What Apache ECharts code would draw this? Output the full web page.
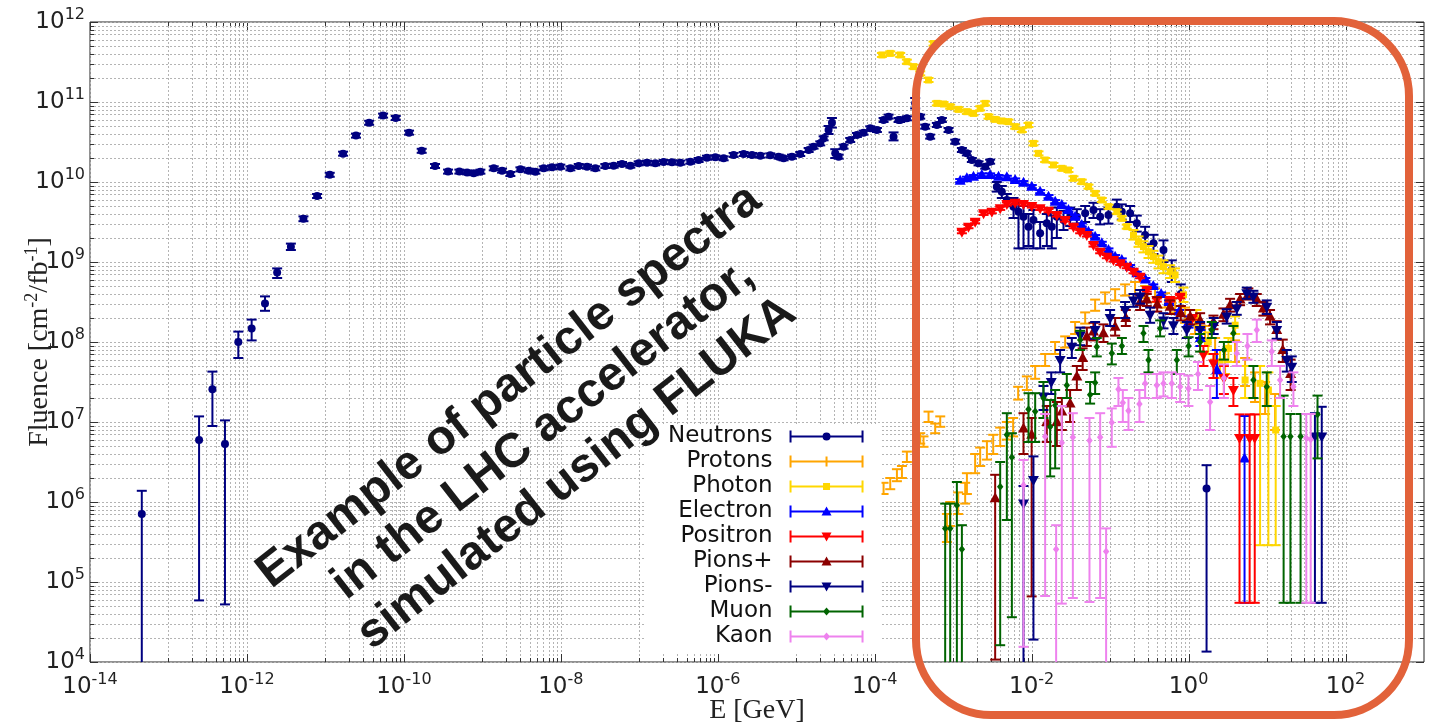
<!DOCTYPE html>
<html>
<head>
<meta charset="utf-8">
<title>Particle spectra (FLUKA)</title>
<script src="https://cdn.jsdelivr.net/npm/echarts@6/dist/echarts.min.js"></script>
<style>html,body{margin:0;padding:0;background:#fff;}</style>
</head>
<body>
<div id="main" style="width:1432px;height:723px"></div>
<script type="text/javascript">
// values, stored as log10:
// [log10 E (GeV), log10 fluence, log10 lower end of error bar, log10 upper end]
// rows with only two numbers have a small error bar (see errSmall below)
var neutrons = [
  [-13.34,5.85,3.0,6.14],[-12.61,6.775,4.77,7.07],[-12.44,7.41,6.95,7.63],[-12.28,6.725,4.72,7.02],
  [-12.11,8.0,7.8,8.13],[-11.94,8.17,8.02,8.28],[-11.77,8.48,8.39,8.57],[-11.615,8.87,8.8,8.92],
  [-11.44,9.19,9.15,9.23],[-11.28,9.54,9.51,9.57],[-11.106,9.825],[-10.945,10.09],[-10.775,10.354],
  [-10.61,10.58],[-10.443,10.74],[-10.265,10.83],[-10.104,10.8],[-9.934,10.617],[-9.773,10.39],
  [-9.603,10.2],[-9.437,10.13],[-9.293,10.13],[-9.195,10.12],[-9.11,10.11],
  [-9.025,10.129],[-8.855,10.171],[-8.749,10.142],[-8.643,10.10],[-8.515,10.158],[-8.409,10.142],
  [-8.324,10.129],[-8.218,10.171],[-8.112,10.183],[-8.006,10.192],[-7.878,10.171],[-7.772,10.2],
  [-7.666,10.192],[-7.56,10.171],[-7.433,10.2],[-7.326,10.204],[-7.22,10.225],[-7.114,10.204],
  [-7.008,10.233],[-6.902,10.242],[-6.796,10.233],[-6.69,10.25],[-6.583,10.246],[-6.477,10.242],
  [-6.35,10.254],[-6.244,10.275],[-6.138,10.304],[-6.031,10.308],[-5.925,10.296],[-5.798,10.338],
  [-5.67,10.35],[-5.564,10.338],[-5.458,10.329],[-5.331,10.333],[-5.225,10.317],[-5.161,10.296],
  [-5.055,10.317],[-4.949,10.35],[-4.842,10.4],[-4.779,10.442],[-4.694,10.483],[-4.651,10.546],
  [-4.588,10.65,10.6,10.7],[-4.545,10.742,10.68,10.8],[-4.503,10.358,10.3,10.41],[-4.46,10.317],
  [-4.397,10.442],[-4.312,10.525],[-4.227,10.588],[-4.142,10.617],[-4.057,10.671],[-3.972,10.65],
  [-3.887,10.775],[-3.823,10.817],[-3.76,10.567,10.52,10.62],[-3.696,10.775],
  [-3.675,10.775],[-3.59,10.796],[-3.484,10.983,10.92,11.05],[-3.42,10.817],[-3.357,10.692],
  [-3.293,10.567],[-3.208,10.713],[-3.144,10.775],[-3.059,10.65],[-2.974,10.504],[-2.889,10.4],
  [-2.826,10.358],[-2.762,10.275],[-2.677,10.233],[-2.592,10.192],[-2.529,10.254],
  [-2.444,9.942,9.88,10.0],[-2.38,9.879,9.8,9.95],[-2.316,9.775,9.7,9.85],[-2.231,9.692,9.55,9.8],
  [-2.168,9.629,9.17,9.75],[-2.104,9.567,9.17,9.7],[-2.04,9.442,9.2,9.6],[-1.977,9.525,9.17,9.65],
  [-1.892,9.358,9.17,9.5],[-1.807,9.483,9.2,9.6],[-1.743,9.442,9.17,9.58],[-1.679,9.567,9.3,9.68],
  [-1.594,9.525,9.4,9.64],[-1.509,9.567,9.45,9.68],[-1.424,9.567,9.48,9.66],[-1.318,9.608,9.5,9.7],
  [-1.212,9.65,9.55,9.74],[-1.127,9.567,9.47,9.66],[-1.021,9.588,9.48,9.68],[-0.915,9.692,9.6,9.78],
  [-0.851,9.629,9.53,9.72],[-0.745,9.608,9.5,9.7],[-0.66,9.483,9.38,9.58],[-0.554,9.338,9.22,9.44],
  [-0.447,9.233,9.1,9.34],[-0.32,9.15,9.0,9.27],[-0.214,8.9,8.75,9.02],[-0.1,8.6,8.45,8.72],
  [0.229,6.17,4.13,6.46]
];
var protons = [
  [-3.887,6.171,6.1,6.24],[-3.802,6.233,6.16,6.3],[-3.717,6.338,6.26,6.41],[-3.653,6.379,6.3,6.45],
  [-3.59,6.567,6.5,6.63],[-3.42,6.796,6.73,6.86],[-3.378,6.754,6.69,6.82],[-3.314,7.067,7.0,7.13],
  [-3.229,6.921,6.86,6.98],[-3.165,7.004,6.94,7.07],
  [-3.08,5.675,5.5,5.85],[-3.038,5.86,5.7,6.0],[-2.936,5.99,5.85,6.12],[-2.847,6.11,5.98,6.24],
  [-2.825,6.24,6.1,6.36],[-2.72,6.49,6.36,6.6],[-2.656,6.57,6.45,6.68],[-2.57,6.65,6.53,6.76],
  [-2.49,6.73,6.6,6.84],[-2.401,6.82,6.7,6.93],[-2.316,6.9,6.78,7.0],[-2.236,6.94,6.82,7.05],
  [-2.172,7.36,7.28,7.44],[-2.061,7.49,7.4,7.57],[-1.955,7.62,7.54,7.7],[-1.828,7.775,7.7,7.85],
  [-1.701,7.925,7.85,8.0],[-1.573,8.0,7.93,8.07],[-1.446,8.175,8.1,8.25],[-1.318,8.3,8.23,8.37],
  [-1.191,8.463,8.39,8.53],[-1.064,8.55,8.48,8.62],[-0.936,8.588,8.52,8.66],[-0.809,8.65,8.58,8.72],
  [-0.682,8.675,8.6,8.75],[-0.554,8.625,8.55,8.7],[-0.427,8.588,8.5,8.67],[-0.299,8.525,8.43,8.61],
  [-0.172,8.463,8.37,8.55],[-0.045,8.338,8.24,8.43],[0.083,8.213,8.1,8.32],[0.21,8.088,7.95,8.2],
  [0.338,7.925,7.78,8.05],[0.465,7.775,7.6,7.9],[0.592,7.9,7.75,8.02],[0.72,7.65,7.45,7.8],
  [0.847,7.463,7.25,7.62],[0.975,7.338,7.1,7.5],[1.102,7.15,6.9,7.35]
];
var photons = [
  [-3.908,11.588],[-3.802,11.608],[-3.675,11.588],[-3.59,11.504],[-3.505,11.442],[-3.42,11.358],
  [-3.314,11.275],[-3.25,11.73],[-3.208,10.983],[-3.123,10.975],[-3.038,10.942],[-2.932,10.908],
  [-2.826,10.879],[-2.741,10.858],[-2.656,10.921],[-2.592,10.983],[-2.55,10.817],[-2.465,10.783],
  [-2.38,10.763],[-2.295,10.754],[-2.21,10.692],[-2.125,10.65],[-2.04,10.713],[-1.977,10.483],
  [-1.913,10.358],[-1.828,10.275],[-1.722,10.213],[-1.616,10.171],[-1.531,10.15],[-1.467,10.046],
  [-1.361,10.004],[-1.276,9.942],[-1.191,9.858],[-1.106,9.775],[-1.021,9.692],[-0.915,9.629],
  [-0.851,9.546],[-0.788,9.442],[-0.702,9.338,9.28,9.4],[-0.638,9.254,9.19,9.32],
  [-0.575,9.192,9.12,9.26],[-0.511,9.129,9.05,9.2],[-0.448,9.067,8.99,9.14],[-0.384,9.004,8.92,9.08],
  [-0.32,8.942,8.86,9.02],[-0.235,8.879,8.8,8.96],[-0.172,8.838,8.75,8.92],[-0.065,8.59,8.5,8.68],
  [0.1,8.3,8.2,8.4],[0.25,8.0,7.85,8.12],[0.4,7.75,7.55,7.9],[0.508,7.92,7.75,8.05],
  [0.593,8.21,8.1,8.32],[0.72,7.525,7.3,7.7],[0.911,7.483,5.46,7.7],[1.017,7.4,5.46,7.62],
  [1.11,6.9,5.46,7.2]
];
var electrons = [
  [-2.911,10.017],[-2.826,10.046],[-2.741,10.067],[-2.635,10.088],[-2.529,10.088],[-2.422,10.067],
  [-2.316,10.058],[-2.21,10.025],[-2.104,9.992],[-1.998,9.942],[-1.892,9.879],[-1.785,9.817],
  [-1.7,9.754],[-1.616,9.713],[-1.531,9.65],[-1.446,9.567],[-1.361,9.463],[-1.276,9.379],
  [-1.191,9.317],[-1.106,9.233],[-1.021,9.15],[-0.936,9.067],[-0.851,9.025],[-0.745,8.942],
  [-0.66,8.858],[-0.55,8.78],[-0.45,8.7],[-0.35,8.6],[-0.25,8.5],[-0.12,8.38],
  [0.0,8.25,8.18,8.32],[0.15,8.05,7.95,8.15],[0.36,7.65,7.3,7.9],[0.713,6.545,4.74,7.075]
];
var positrons = [
  [-2.889,9.379],[-2.805,9.442],[-2.72,9.504],[-2.613,9.608],[-2.507,9.629],[-2.401,9.671],
  [-2.316,9.725],[-2.21,9.742],[-2.104,9.725],[-1.998,9.7],[-1.892,9.671],[-1.785,9.642],
  [-1.679,9.588],[-1.573,9.525],[-1.467,9.442],[-1.382,9.379],[-1.297,9.338],[-1.212,9.213],
  [-1.127,9.129],[-1.042,9.067],[-0.957,9.025],[-0.872,8.983],[-0.788,8.942],[-0.702,8.879],
  [-0.618,8.817],[-0.533,8.65],[-0.405,8.525],[-0.235,8.525],[-0.108,8.567],[0.05,8.3],
  [0.189,7.84,7.7,7.95],[0.317,7.73,7.55,7.85],[0.45,7.55,7.35,7.7],[0.571,7.4,7.2,7.55],
  [0.649,6.8,4.74,7.095],[0.778,6.8,4.74,7.095],[0.843,6.8,4.74,7.095]
];
var pionsPlus = [
  [-2.465,6.046,4.03,6.34],[-2.104,6.92,6.6,7.11],[-2.0,6.84,4.82,7.05],[-1.807,7.0,6.75,7.2],
  [-1.679,7.0,6.7,7.25],[-1.615,7.13,6.9,7.3],[-1.51,7.23,7.0,7.4],[-1.424,7.57,7.4,7.7],
  [-1.35,7.8,7.65,7.92],[-1.297,8.07,7.95,8.18],[-1.212,8.13,8.02,8.24],[-1.085,8.11,8.0,8.22],
  [-0.936,8.19,8.08,8.3],[-0.8,8.3,8.2,8.4],[-0.618,8.5,8.4,8.58],[-0.533,8.53,8.45,8.6],
  [-0.4,8.47,8.38,8.56],[-0.235,8.44,8.35,8.52],[-0.1,8.36,8.27,8.45],[0.02,8.32,8.22,8.4],
  [0.147,8.27,8.18,8.36],[0.317,8.25,8.16,8.33],[0.444,8.34,8.26,8.42],[0.529,8.46,8.38,8.54],
  [0.656,8.53,8.46,8.6],[0.762,8.6,8.53,8.67],[0.869,8.53,8.45,8.6],[0.953,8.42,8.33,8.5],
  [1.038,8.32,8.22,8.4],[1.123,8.15,8.03,8.26],[1.2,7.9,7.75,8.03],[1.3,7.6,7.4,7.78]
];
var pionsMinus = [
  [-2.104,5.98,3.5,6.2],[-1.977,6.275,4.28,6.57],[-1.849,7.32,7.15,7.45],[-1.75,7.5,7.35,7.62],
  [-1.637,7.775,7.62,7.9],[-1.488,7.94,7.8,8.05],[-1.38,8.08,7.96,8.18],[-1.191,8.15,8.04,8.25],
  [-1.0,8.3,8.2,8.4],[-0.809,8.4,8.3,8.5],[-0.702,8.52,8.44,8.6],[-0.618,8.57,8.48,8.65],
  [-0.49,8.34,8.24,8.43],[-0.32,8.27,8.17,8.36],[-0.193,8.21,8.1,8.3],[-0.023,8.15,8.05,8.25],
  [0.147,8.15,8.05,8.25],[0.32,8.2,8.1,8.3],[0.486,8.32,8.23,8.41],[0.614,8.42,8.34,8.5],
  [0.741,8.61,8.54,8.68],[0.826,8.57,8.49,8.64],[0.996,8.44,8.35,8.52],[1.123,8.15,8.04,8.25],
  [1.251,7.775,7.63,7.9],[1.315,7.69,7.5,7.82],[1.61,6.82,4.74,7.11],[1.697,6.82,4.74,7.19]
];
var muons = [
  [-3.102,5.67,3.5,5.98],[-3.038,5.67,3.5,5.98],[-2.953,5.96,3.5,6.25],[-2.889,5.41,3.5,5.71],
  [-2.401,6.19,4.21,6.5],[-2.316,6.84,5.775,7.11],[-2.252,6.56,4.56,6.86],[-2.04,7.16,6.75,7.36],
  [-1.955,7.13,6.75,7.36],[-1.85,7.3,7.05,7.5],[-1.764,6.94,6.32,7.275],[-1.7,7.21,6.42,7.4],
  [-1.552,7.46,7.3,7.6],[-1.382,8.025,7.9,8.14],[-1.255,7.34,7.23,7.5],[-1.191,7.49,7.35,7.62],
  [-1.17,7.94,7.82,8.05],[-0.978,7.86,7.72,7.98],[-0.85,7.95,7.85,8.05],[-0.575,8.11,8.0,8.2],
  [-0.511,7.775,7.62,7.9],[-0.363,8.17,8.07,8.27],[-0.15,7.775,7.6,7.9],[0.0,7.95,7.82,8.06],
  [0.147,8.0,7.88,8.1],[0.295,8.15,8.05,8.25],[0.45,7.9,7.78,8.0],[0.571,8.11,8.0,8.2],
  [0.826,7.525,7.3,7.7],[0.996,7.44,7.2,7.62],[1.211,6.82,4.74,7.33],[1.298,6.82,4.74,7.1],
  [1.427,6.82,4.74,7.1],[1.643,7.095,6.545,7.33]
];
var kaons = [
  [-2.104,6.21,4.19,6.525],[-1.828,6.82,4.825,7.1],[-1.688,5.41,3.5,5.71],[-1.616,6.74,4.73,7.2],
  [-1.475,6.81,4.8,7.11],[-1.263,6.77,4.75,7.05],[-1.127,6.81,4.8,7.11],[-1.051,5.38,3.5,5.67],
  [-0.979,6.995,6.69,7.17],[-0.894,7.41,7.2,7.55],[-0.838,7.24,7.0,7.4],[-0.766,7.14,6.9,7.3],
  [-0.626,7.225,7.0,7.4],[-0.554,7.48,7.3,7.6],[-0.405,7.46,7.3,7.6],[-0.32,7.48,7.32,7.62],
  [-0.214,7.48,7.3,7.62],[-0.108,7.44,7.25,7.6],[-0.002,7.42,7.2,7.58],[0.12,7.6,7.4,7.75],
  [0.274,7.25,6.9,7.45],[0.45,7.55,7.3,7.72],[0.614,7.86,7.7,8.0],[0.75,7.95,7.78,8.1],
  [0.869,8.15,8.0,8.28],[1.06,7.88,7.7,8.02],[1.166,7.525,7.3,7.7],[1.336,7.44,7.2,7.62],
  [1.5,6.8,4.74,7.1],[1.556,6.78,4.74,7.1]
];
var legendNames = ['Neutrons','Protons','Photon','Electron','Positron','Pions+','Pions-','Muon','Kaon'];
var seriesData = [neutrons, protons, photons, electrons, positrons, pionsPlus, pionsMinus, muons, kaons];
var errSmall = [0.025, 0.05, 0.025, 0.02, 0.02, 0.05, 0.05, 0.05, 0.05];

// look of each series
var colors = ['#000080','#FFA500','#FFD700','#0000FF','#FF0000','#8B0000','#000080','#006400','#EE82EE'];
var markers = ['circle','none','square','triUp','triDown','triUp','triDown','diamond','diamond'];
var markerSize = [8, 0, 7, 10, 10, 10, 10, 8, 8];

var myChart = echarts.init(document.getElementById('main'));

function markerShape(kind, cx, cy, s, color) {
  var h = s / 2;
  if (kind === 'circle') return {type: 'circle', shape: {cx: cx, cy: cy, r: h}, style: {fill: color}};
  if (kind === 'square') return {type: 'rect', shape: {x: cx - h, y: cy - h, width: s, height: s}, style: {fill: color}};
  var pts;
  if (kind === 'triUp') pts = [[cx, cy - s * 0.6], [cx + s * 0.55, cy + s * 0.4], [cx - s * 0.55, cy + s * 0.4]];
  else if (kind === 'triDown') pts = [[cx - s * 0.55, cy - s * 0.4], [cx + s * 0.55, cy - s * 0.4], [cx, cy + s * 0.6]];
  else if (kind === 'diamond') pts = [[cx, cy - h], [cx + h * 0.8, cy], [cx, cy + h], [cx - h * 0.8, cy]];
  else return null;
  return {type: 'polygon', shape: {points: pts}, style: {fill: color}};
}

function makeRender(i) {
  return function (params, api) {
    var p = api.coord([api.value(0), api.value(1)]);
    var lo = api.coord([api.value(0), api.value(2)])[1];
    var hi = api.coord([api.value(0), api.value(3)])[1];
    var st = {stroke: colors[i], lineWidth: 2};
    var cap = 5;
    var kids = [
      {type: 'line', shape: {x1: p[0], y1: lo, x2: p[0], y2: hi}, style: st},
      {type: 'line', shape: {x1: p[0] - cap, y1: lo, x2: p[0] + cap, y2: lo}, style: st},
      {type: 'line', shape: {x1: p[0] - cap, y1: hi, x2: p[0] + cap, y2: hi}, style: st}
    ];
    var m = markerShape(markers[i], p[0], p[1], markerSize[i], colors[i]);
    if (m) kids.push(m);
    return {type: 'group', children: kids};
  };
}

// dotted grid + inward ticks like the original plot
var xGrid = [], yGrid = [];
for (var n = -14; n <= 2; n++) {
  if (n % 2 === 0) xGrid.push({v: Math.pow(10, n), major: true});
  else for (var k = 1; k <= 9; k++) xGrid.push({v: k * Math.pow(10, n), major: false});
}
for (var n2 = 4; n2 <= 12; n2++) {
  yGrid.push({v: Math.pow(10, n2), major: true});
  if (n2 < 12) for (var k2 = 2; k2 <= 9; k2++) yGrid.push({v: k2 * Math.pow(10, n2), major: false});
}

function renderGrid(params, api) {
  var cs = params.coordSys;
  var x0 = cs.x, x1 = cs.x + cs.width, y0 = cs.y, y1 = cs.y + cs.height;
  var dash = {stroke: '#b4b4b4', lineWidth: 1, lineDash: [2, 2]};
  var tk = {stroke: '#333', lineWidth: 1};
  var kids = [];
  xGrid.forEach(function (g) {
    var x = Math.round(api.coord([g.v, 1e8])[0]) + 0.5;
    var len = g.major ? 8 : 4;
    kids.push({type: 'line', shape: {x1: x, y1: y0, x2: x, y2: y1}, style: dash});
    kids.push({type: 'line', shape: {x1: x, y1: y1, x2: x, y2: y1 - len}, style: tk});
    kids.push({type: 'line', shape: {x1: x, y1: y0, x2: x, y2: y0 + len}, style: tk});
  });
  yGrid.forEach(function (g) {
    var y = Math.round(api.coord([1e-5, g.v])[1]) + 0.5;
    var len = g.major ? 8 : 4;
    kids.push({type: 'line', shape: {x1: x0, y1: y, x2: x1, y2: y}, style: dash});
    kids.push({type: 'line', shape: {x1: x0, y1: y, x2: x0 + len, y2: y}, style: tk});
    kids.push({type: 'line', shape: {x1: x1, y1: y, x2: x1 - len, y2: y}, style: tk});
  });
  return {type: 'group', children: kids};
}

// legend icons: error bar with caps and the marker in the middle
var iconMarks = {
  circle: 'M33 7a4 4 0 1 1 8 0a4 4 0 1 1 -8 0Z',
  square: 'M33.5 3.5h7v7h-7Z',
  triUp: 'M32 11L37 2L42 11Z',
  triDown: 'M32 3L42 3L37 12Z',
  diamond: 'M37 3L40.5 7L37 11L33.5 7Z',
  none: 'M36 2h2v10h-2Z'
};
function legendIcon(i) {
  return 'path://M-12 7h0.05v0.05h-0.05Z M0 6h74v2H0Z M0 1h2v12H0Z M72 1h2v12h-2Z ' + iconMarks[markers[i]];
}

var supStyle = {fontFamily: 'DejaVu Sans', fontSize: 16, lineHeight: 19, verticalAlign: 'top', color: '#222'};
function powLabel(v) {
  return '10{sup|' + Math.round(Math.log10(v)) + '}';
}

var series = [{
  type: 'custom', name: 'grid', silent: true, z: 1,
  renderItem: renderGrid, data: [[1e-5, 1e8]], encode: {x: 0, y: 1}
}];
seriesData.forEach(function (rows, i) {
  series.push({
    type: 'custom', name: legendNames[i], clip: true, z: 2 + i,
    itemStyle: {color: colors[i]},
    encode: {x: 0, y: 1},
    data: rows.map(function (r) {
      var lo = r.length > 2 ? r[2] : r[1] - errSmall[i];
      var hi = r.length > 2 ? r[3] : r[1] + errSmall[i];
      return [Math.pow(10, r[0]), Math.pow(10, r[1]), Math.pow(10, lo), Math.pow(10, hi)];
    }),
    renderItem: makeRender(i)
  });
});

myChart.setOption({
  animation: false,
  grid: {
    left: 90, right: 8, top: 22, bottom: 61, outerBoundsMode: 'none', containLabel: false,
    show: true, borderColor: '#222', borderWidth: 1
  },
  xAxis: {
    type: 'log', logBase: 10, min: 1e-14, max: 1e3, interval: 2,
    name: 'E [GeV]', nameLocation: 'middle', nameGap: 35, nameMoveOverlap: false,
    nameTextStyle: {fontFamily: 'Liberation Serif', fontSize: 28, color: '#222'},
    axisLine: {show: false}, axisTick: {show: false}, splitLine: {show: false},
    axisLabel: {
      margin: 10, showMaxLabel: false, formatter: powLabel,
      fontFamily: 'DejaVu Sans', fontSize: 23, lineHeight: 30, color: '#222',
      rich: {sup: supStyle}
    }
  },
  yAxis: {
    type: 'log', logBase: 10, min: 1e4, max: 1e12, interval: 1,
    name: 'Fluence [cm{sup|-2}/fb{sup|-1}]', nameLocation: 'middle', nameGap: 33, nameRotate: 90,
    nameMoveOverlap: false,
    nameTextStyle: {
      fontFamily: 'Liberation Serif', fontSize: 28, lineHeight: 34, color: '#222',
      rich: {sup: {fontFamily: 'Liberation Serif', fontSize: 18, lineHeight: 20, verticalAlign: 'top', color: '#222'}}
    },
    axisLine: {show: false}, axisTick: {show: false}, splitLine: {show: false},
    axisLabel: {
      margin: 5, formatter: powLabel,
      fontFamily: 'DejaVu Sans', fontSize: 23, lineHeight: 30, color: '#222',
      rich: {sup: supStyle}
    }
  },
  legend: {
    orient: 'vertical', align: 'right', left: 645, top: 424,
    padding: [0, 18, 5, 23], backgroundColor: '#fff',
    itemWidth: 86, itemHeight: 14, itemGap: 0, selectedMode: false,
    textStyle: {fontFamily: 'DejaVu Sans', fontSize: 23, lineHeight: 25, color: '#111'},
    data: legendNames.map(function (name, i) { return {name: name, icon: legendIcon(i)}; })
  },
  graphic: [
    {
      type: 'text', x: 543, y: 430, rotation: 38 * Math.PI / 180, z: 100,
      style: {
        text: 'Example of particle spectra\nin the LHC accelerator,\nsimulated using FLUKA',
        fontFamily: 'Liberation Sans', fontWeight: 'bold', fontSize: 48, lineHeight: 55,
        fill: '#1a1a1a', align: 'center', verticalAlign: 'middle'
      }
    },
    {
      type: 'rect', z: 101,
      shape: {x: 916, y: 21, width: 493, height: 694, r: 75},
      style: {fill: 'none', stroke: '#e2623a', lineWidth: 8}
    }
  ],
  series: series
});
</script>
</body>
</html>
